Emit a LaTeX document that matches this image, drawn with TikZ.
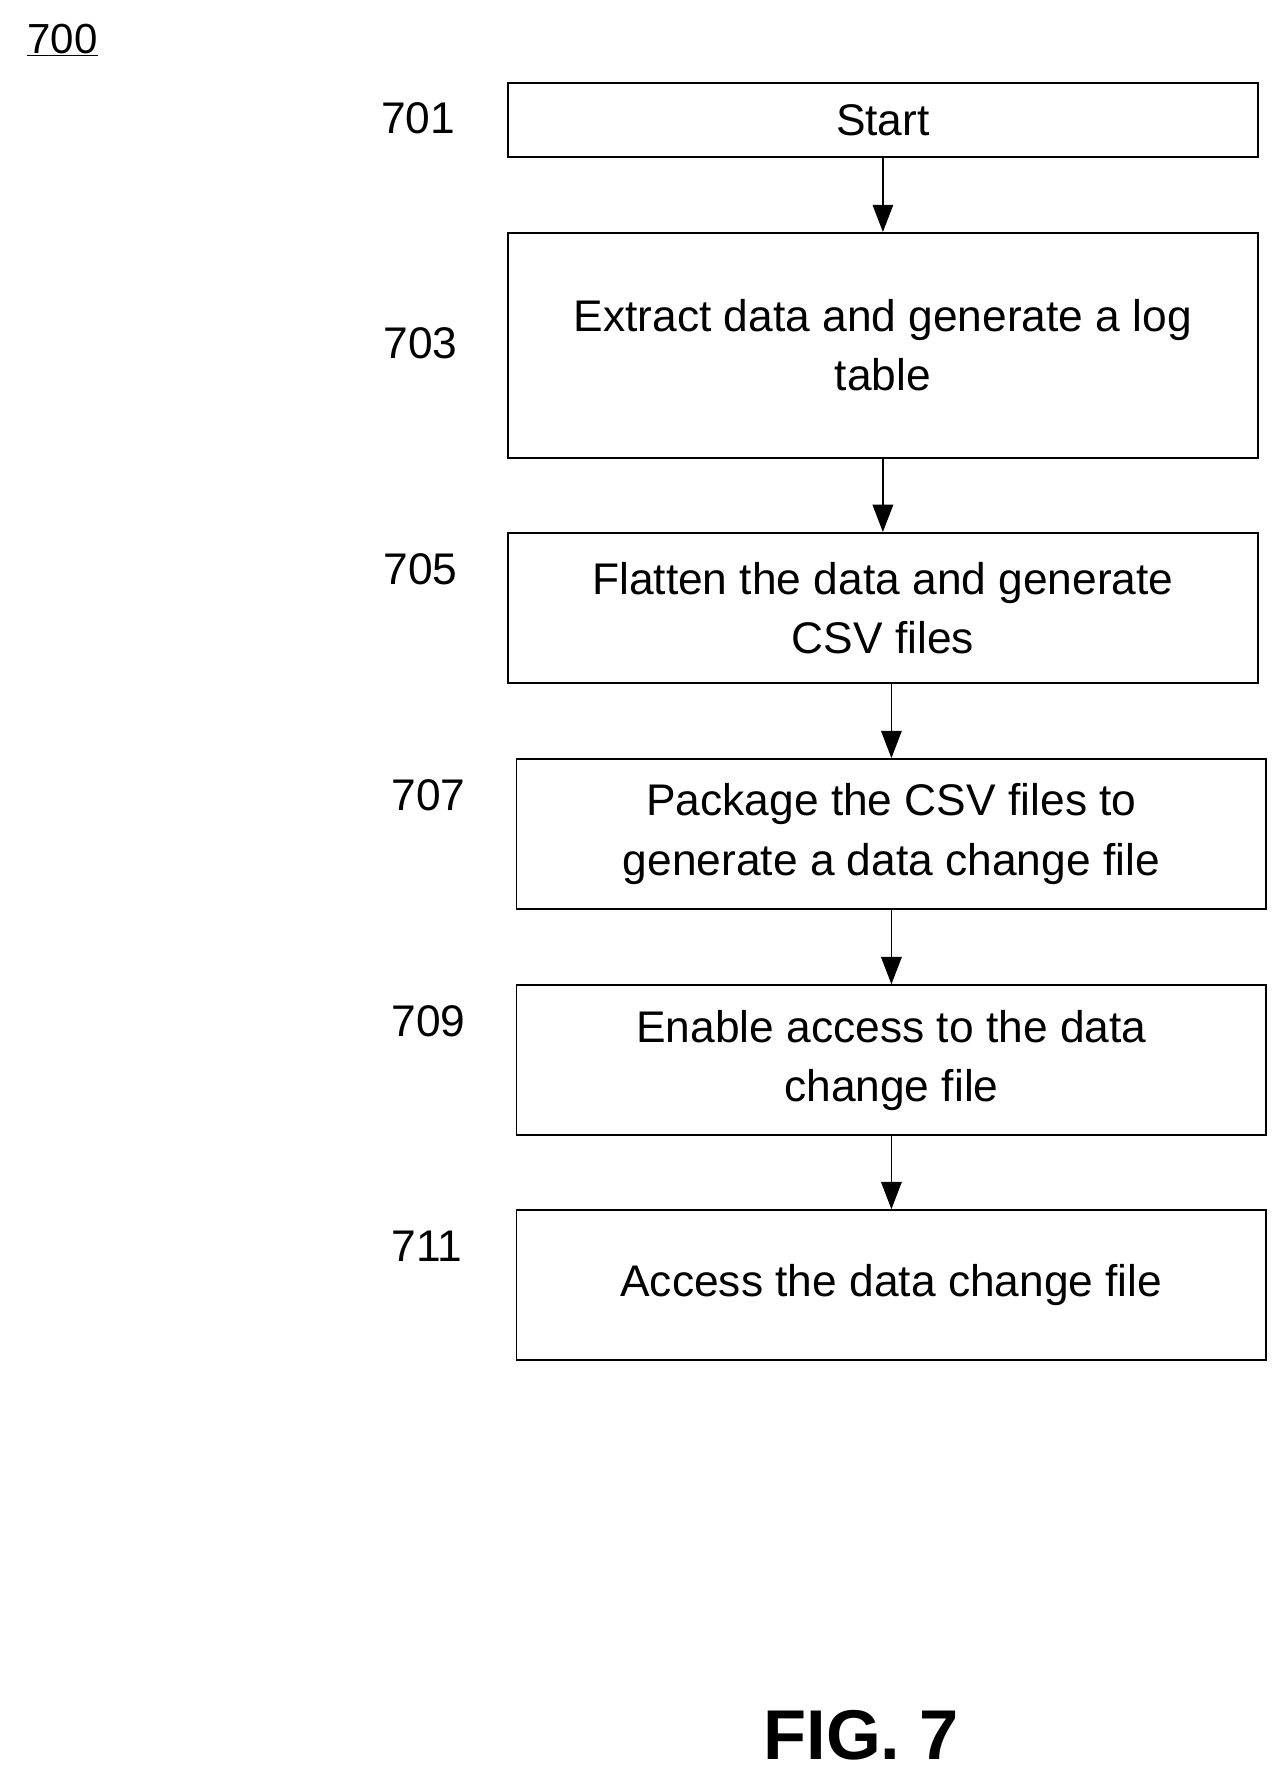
\documentclass[tikz,border=0pt]{standalone}
\usepackage{fontspec}
\setmainfont{Liberation Sans}
\usetikzlibrary{arrows.meta}

\begin{document}
\begin{tikzpicture}[x=1pt, y=-1pt, thick,
  stepbox/.style={draw, line width=1.6pt, minimum width=660pt, align=center,
    font=\fontsize{39}{52}\selectfont, inner sep=0pt},
  num/.style={font=\fontsize{39}{46}\selectfont},
  arr/.style={line width=1.6pt, -{Triangle[length=24pt, width=18pt]}}]
  \useasboundingbox (0,0) rectangle (1130,1563);

  \node[font=\fontsize{37}{44}\selectfont] (fig) at (55,35) {\underline{700}};

  \node[stepbox, minimum height=65pt] (A) at (777,105.5) {Start};
  \node[stepbox, minimum height=198pt] (B) at (777,304) {Extract data and generate a log\\table};
  \node[stepbox, minimum height=132pt] (C) at (777,535) {Flatten the data and generate\\CSV files};
  \node[stepbox, minimum height=132pt] (D) at (784.5,734) {Package the CSV files to\\generate a data change file};
  \node[stepbox, minimum height=132pt] (E) at (784.5,933) {Enable access to the data\\change file};
  \node[stepbox, minimum height=132pt] (F) at (784.5,1131) {Access the data change file};

  \node[num] (nA) at (368,104) {701};
  \node[num] (nB) at (370,302) {703};
  \node[num] (nC) at (370,501) {705};
  \node[num] (nD) at (377,700) {707};
  \node[num] (nE) at (377,899) {709};
  \node[num] (nF) at (376,1097) {711};

  \draw[arr] (A.south) -- (B.north);
  \draw[arr] (B.south) -- (C.north);
  \draw[arr] (D.north |- C.south) -- (D.north);
  \draw[arr] (D.south) -- (E.north);
  \draw[arr] (E.south) -- (F.north);

  \node[font=\fontsize{62}{70}\selectfont\bfseries] (cap) at (758,1527) {FIG. 7};
\end{tikzpicture}
\end{document}
